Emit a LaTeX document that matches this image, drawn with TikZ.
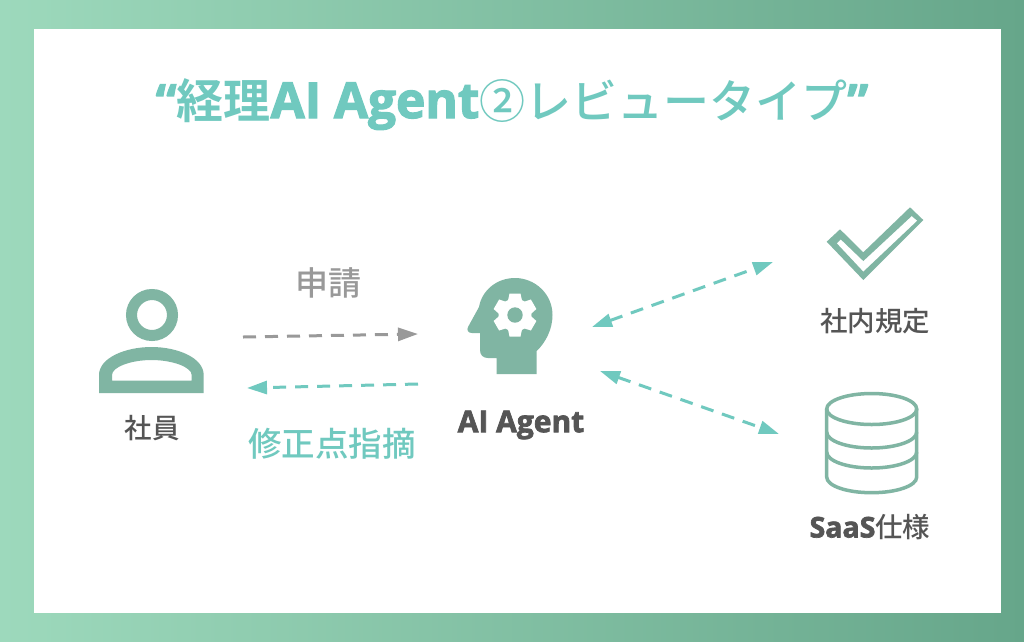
\documentclass[tikz,border=0pt]{standalone}
\usepackage{fontspec}
\setmainfont{Open Sans}
\newfontfamily\cjkm{Noto Sans CJK JP Medium}
\newfontfamily\cjkb{Noto Sans CJK JP Bold}
\newfontfamily\heavy{Open Sans Bold}[FakeBold=2.4]
\usepackage{xcolor}
\usetikzlibrary{arrows.meta}
\definecolor{frameleft}{HTML}{9DD9BC}
\definecolor{frameright}{HTML}{66A68A}
\definecolor{icongreen}{HTML}{80B5A3}
\definecolor{teal1}{HTML}{70C9BF}
\definecolor{gray1}{HTML}{999999}
\definecolor{text1}{HTML}{555555}
\tikzset{
    label1/.style={text=text1, inner sep=0pt, font=\fontsize{27.5}{30}\selectfont},
    dashteal/.style={teal1, line width=3pt, dash pattern=on 13pt off 9pt, -{Triangle[length=20pt,width=13pt]}},
    dashboth/.style={teal1, line width=3pt, dash pattern=on 13pt off 9pt, {Triangle[length=20pt,width=13pt]}-{Triangle[length=20pt,width=13pt]}},
}
\newcommand{\fs}[1]{\fontsize{#1}{#1}\selectfont}
\begin{document}
\begin{tikzpicture}[x=1pt,y=-1pt]
    \useasboundingbox (0,0) rectangle (1024,641);
    % frame
    \shade[left color=frameleft, right color=frameright] (0,0) rectangle (1024,641);
    \fill[white] (34,29) rectangle (1001,613);
    % title
    \node[teal1, inner sep=0pt, anchor=base] (title) at (512,118) {\fs{47}{\heavy “}{\cjkb 経理}{\fs{49.5}\heavy AI Agent}{\fs{46}\cjkm ②レビュータイプ}{\heavy ”}};
    % person
    \filldraw[color=icongreen, fill=white, line width=11pt] (152,315) circle (20.5);
    \fill[icongreen, even odd rule] (99,393) -- (99,375) .. controls (99,358) and (125,347) .. (151.5,347) .. controls (178,347) and (203.7,358) .. (203.7,375) -- (203.7,393) -- cycle
        (112,380.7) -- (191.7,380.7) -- (191.7,375) .. controls (191.7,367) and (172,360) .. (151.5,360) .. controls (131,360) and (112,367) .. (112,375) -- cycle;
    \node[label1] (staff) at (152,428) {\cjkm 社員};
    % head
    \fill[icongreen] (496.5,374) -- (536.7,374) -- (536.7,351) .. controls (546,342) and (552.5,329) .. (552.5,315) .. controls (552.5,294) and (535,278) .. (515,278) .. controls (497,278) and (482,290) .. (479,307) -- (468,327) .. controls (466.5,330) and (468,333) .. (472,333) -- (480,333) -- (480,350) .. controls (480,355) and (483,358) .. (488,358) -- (496.5,358) -- cycle;
    \fill[white] (515,315) circle (16.5);
    \foreach \a in {0,60,...,300}
        \fill[white, rotate around={\a:(515,315)}] (509.5,293.5) -- (520.5,293.5) -- (522.5,303) -- (507.5,303) -- cycle;
    \fill[icongreen] (515,315) circle (7.7);
    \node[label1, font=\fs{30}] (agent) at (521,425) {\heavy AI Agent};
    % check
    \fill[icongreen, even odd rule] (826.7,241.7) -- (840,229.3) -- (863.3,252.3) -- (910,207.3) -- (923.3,220) -- (863.3,280) -- cycle
        (836.7,243.3) -- (840.7,239.3) -- (863.3,261) -- (911.7,216) -- (917.3,220.7) -- (863.3,271.7) -- cycle;
    \node[label1] (rules) at (875,321) {\cjkm 社内規定};
    % database
    \draw[icongreen, line width=3.5pt] (871.7,409) ellipse (45 and 15.5);
    \draw[icongreen, line width=3.5pt] (826.7,409) -- (826.7,477) .. controls (826.7,486) and (847,492.7) .. (871.7,492.7) .. controls (896,492.7) and (916.7,486) .. (916.7,477) -- (916.7,409);
    \draw[icongreen, line width=3.5pt] (826.7,432) .. controls (826.7,441) and (847,448) .. (871.7,448) .. controls (896,448) and (916.7,441) .. (916.7,432);
    \draw[icongreen, line width=3.5pt] (826.7,452) .. controls (826.7,461) and (847,468) .. (871.7,468) .. controls (896,468) and (916.7,461) .. (916.7,452);
    \node[label1] (saas) at (870,527) {{\fs{28.5}\heavy SaaS}{\cjkm 仕様}};
    % arrows
    \coordinate (req1) at (243,337);
    \coordinate (req2) at (418,334);
    \coordinate (fix1) at (418,384);
    \coordinate (fix2) at (247,388);
    \coordinate (rule1) at (592,327);
    \coordinate (rule2) at (773,262);
    \coordinate (saas1) at (600,371);
    \coordinate (saas2) at (779,434);
    \draw[dashteal, gray1] (req1) -- (req2);
    \draw[dashteal] (fix1) -- (fix2);
    \draw[dashboth] (rule1) -- (rule2);
    \draw[dashboth] (saas1) -- (saas2);
    \node[gray1, inner sep=0pt, font=\fs{33}] (apply) at (328,283) {\cjkm 申請};
    \node[teal1, inner sep=0pt, font=\fs{33.5}] (point) at (332,444) {\cjkm 修正点指摘};
\end{tikzpicture}
\end{document}
